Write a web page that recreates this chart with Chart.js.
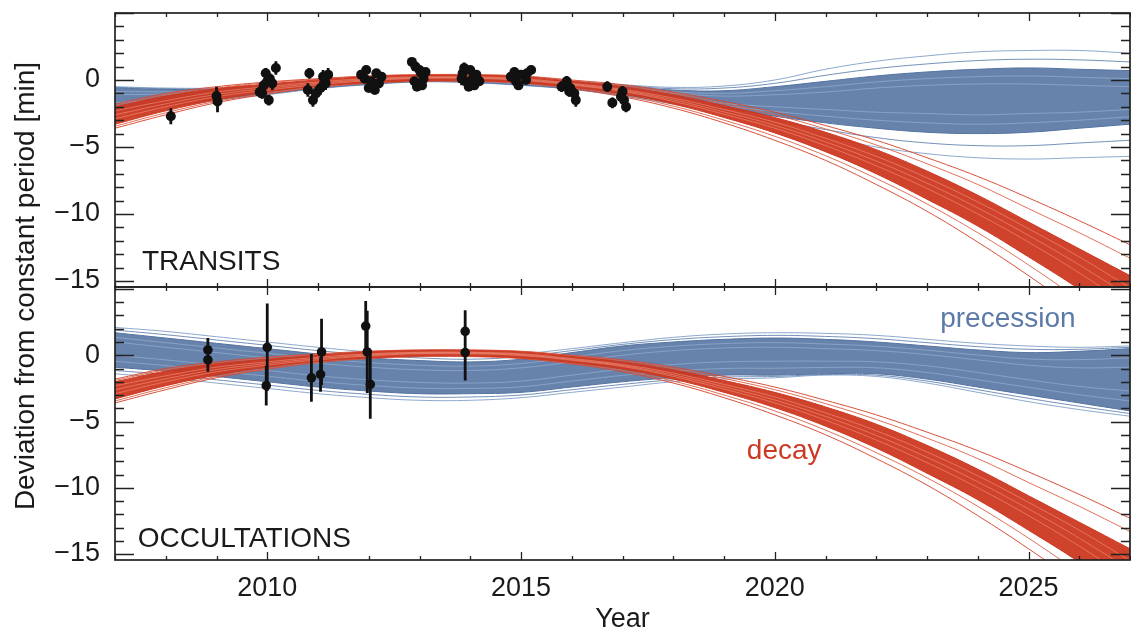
<!DOCTYPE html>
<html>
<head>
<meta charset="utf-8">
<script src="https://cdn.jsdelivr.net/npm/chart.js@4.4.1/dist/chart.umd.min.js"></script>
<style>
html,body{margin:0;padding:0;background:#fff;}
#wrap{position:relative;width:1131px;height:637px;overflow:hidden;background:#fff;}
#c1{position:absolute;left:0;top:0;}
#c2{position:absolute;left:0;top:274px;}
#ytitle{position:absolute;left:-274.7px;top:272px;width:600px;height:28px;line-height:28px;
  font-family:'Liberation Sans',Arial,sans-serif;font-size:28px;color:#1a1a1a;text-align:center;
  transform:rotate(-90deg);transform-origin:50% 50%;white-space:nowrap;}
</style>
</head>
<body>
<div id="wrap">
  <canvas id="c1" width="1131" height="300" style="width:1131px;height:300px"></canvas>
  <canvas id="c2" width="1131" height="363" style="width:1131px;height:363px"></canvas>
  <div id="ytitle">Deviation from constant period [min]</div>
</div>
<script>
// ---------------- data ----------------
const years = [2007,2008,2009,2010,2011,2012,2013,2014,2015,2016,2017,2018,2019,2020,2021,2022,2023,2024,2025,2026,2027];
const yTickValues = [-15,-10,-5,0];
const yTickLabels = ['\u221215','\u221210','\u22125','0'];
const xTickValues = [2010,2015,2020,2025];
const xTickLabels = ['2010','2015','2020','2025'];

// orbital decay model curves (red)
const decayOuterHi = [-1.8,-1.0,-0.5,-0.15,0.1,0.3,0.4,0.4,0.3,0.0,-0.35,-0.9,-1.6,-2.4,-3.4,-4.5,-5.8,-7.2,-8.8,-10.5,-12.3];
const decayMidA    = [-1.9,-1.1,-0.6,-0.2,0.05,0.28,0.38,0.38,0.28,-0.05,-0.42,-1.0,-1.75,-2.6,-3.65,-4.85,-6.25,-7.8,-9.6,-11.4,-13.3];
const decayCoreHi  = [-2.0,-1.2,-0.65,-0.3,0.0,0.25,0.35,0.35,0.25,-0.1,-0.5,-1.1,-1.9,-2.8,-3.9,-5.2,-6.8,-8.6,-10.6,-12.6,-14.6];
const decayStreakA = [-2.3,-1.55,-0.9,-0.5,-0.15,0.1,0.22,0.22,0.1,-0.25,-0.7,-1.35,-2.2,-3.15,-4.35,-5.7,-7.3,-9.1,-11.1,-13.2,-15.5];
const decayStreakC = [-2.6,-1.78,-1.08,-0.62,-0.25,0.02,0.17,0.17,0.04,-0.32,-0.78,-1.48,-2.38,-3.38,-4.62,-6.05,-7.7,-9.55,-11.6,-13.8,-16.2];
const decayStreakB = [-2.9,-2.0,-1.25,-0.75,-0.35,-0.05,0.12,0.12,-0.02,-0.38,-0.85,-1.6,-2.55,-3.6,-4.9,-6.4,-8.1,-10.0,-12.1,-14.4,-16.9];
const decayCoreLo  = [-3.3,-2.3,-1.5,-0.9,-0.45,-0.2,-0.05,-0.05,-0.2,-0.55,-1.05,-1.8,-2.8,-3.95,-5.35,-7.0,-8.9,-10.9,-13.2,-15.6,-18.2];
const decayMidB    = [-3.45,-2.45,-1.6,-1.0,-0.5,-0.22,-0.08,-0.08,-0.22,-0.6,-1.15,-1.95,-3.0,-4.2,-5.65,-7.35,-9.25,-11.4,-13.8,-16.4,-19.0];
const decayOuterLo = [-3.6,-2.6,-1.7,-1.05,-0.55,-0.25,-0.1,-0.1,-0.25,-0.65,-1.25,-2.1,-3.2,-4.5,-6.0,-7.8,-9.8,-12.1,-14.6,-17.3,-20.2];

// apsidal precession model curves (blue), transits panel
const precTOuterHi = [-0.5,-0.6,-0.6,-0.4,-0.15,0.05,0.2,0.2,0.1,-0.1,-0.35,-0.55,-0.45,0.0,0.8,1.4,1.8,2.1,2.2,2.2,2.0];
const precTMidA    = [-0.55,-0.65,-0.65,-0.45,-0.18,0.02,0.18,0.18,0.08,-0.12,-0.4,-0.65,-0.6,-0.25,0.35,0.85,1.2,1.45,1.55,1.5,1.35];
const precTCoreHi  = [-0.6,-0.7,-0.7,-0.5,-0.2,0.0,0.15,0.15,0.05,-0.15,-0.45,-0.75,-0.8,-0.5,-0.1,0.3,0.6,0.8,0.9,0.8,0.7];
const precTStreakC = [-0.85,-0.88,-0.8,-0.58,-0.28,-0.05,0.1,0.1,-0.02,-0.25,-0.58,-0.88,-1.0,-0.8,-0.5,-0.15,0.1,0.25,0.3,0.2,0.1];
const precTStreakA = [-1.1,-1.05,-0.9,-0.65,-0.35,-0.1,0.05,0.05,-0.1,-0.35,-0.7,-1.0,-1.2,-1.1,-0.9,-0.6,-0.4,-0.3,-0.3,-0.4,-0.5];
const precTStreakB = [-1.7,-1.45,-1.15,-0.85,-0.5,-0.2,-0.02,-0.05,-0.25,-0.5,-0.9,-1.35,-1.75,-2.0,-2.2,-2.4,-2.5,-2.6,-2.5,-2.4,-2.2];
const precTStreakD = [-1.95,-1.62,-1.28,-0.92,-0.55,-0.25,-0.06,-0.1,-0.3,-0.58,-1.0,-1.48,-1.92,-2.35,-2.7,-3.0,-3.2,-3.3,-3.2,-3.0,-2.75];
const precTCoreLo  = [-2.2,-1.8,-1.4,-1.0,-0.6,-0.3,-0.1,-0.15,-0.35,-0.65,-1.1,-1.6,-2.1,-2.7,-3.2,-3.6,-3.9,-4.0,-3.9,-3.6,-3.3];
const precTMidB    = [-2.3,-1.9,-1.45,-1.05,-0.62,-0.32,-0.12,-0.18,-0.38,-0.68,-1.15,-1.7,-2.3,-3.0,-3.7,-4.3,-4.7,-4.9,-4.9,-4.7,-4.5];
const precTOuterLo = [-2.4,-2.0,-1.5,-1.1,-0.65,-0.35,-0.15,-0.2,-0.4,-0.7,-1.2,-1.8,-2.5,-3.3,-4.2,-5.0,-5.5,-5.8,-5.9,-5.8,-5.7];

// apsidal precession model curves (blue), occultations panel
const precOOuterHi = [2.1,1.8,1.4,1.0,0.6,0.25,0.0,-0.1,0.1,0.5,0.95,1.35,1.6,1.7,1.65,1.5,1.2,0.9,0.7,0.6,0.7];
const precOMidA    = [1.9,1.55,1.15,0.75,0.35,0.02,-0.2,-0.3,-0.1,0.35,0.82,1.18,1.4,1.5,1.42,1.25,0.95,0.65,0.45,0.45,0.6];
const precOCoreHi  = [1.7,1.3,0.9,0.5,0.1,-0.2,-0.4,-0.5,-0.3,0.2,0.7,1.0,1.2,1.3,1.2,1.0,0.7,0.4,0.2,0.3,0.5];
const precOStreakC = [1.35,0.95,0.55,0.15,-0.25,-0.55,-0.75,-0.82,-0.62,-0.15,0.35,0.68,0.88,0.95,0.85,0.68,0.38,0.02,-0.28,-0.33,-0.2];
const precOStreakA = [1.0,0.6,0.2,-0.2,-0.6,-0.9,-1.1,-1.15,-0.95,-0.5,0.0,0.35,0.55,0.6,0.5,0.35,0.05,-0.35,-0.75,-0.95,-0.9];
const precOStreakB = [0.0,-0.35,-0.75,-1.15,-1.55,-1.85,-2.05,-2.1,-1.95,-1.5,-1.05,-0.7,-0.5,-0.45,-0.45,-0.5,-0.8,-1.3,-1.85,-2.35,-2.7];
const precOStreakD = [-0.45,-0.78,-1.18,-1.58,-1.98,-2.28,-2.48,-2.5,-2.38,-1.95,-1.52,-1.2,-1.0,-0.98,-0.92,-0.95,-1.3,-1.85,-2.42,-2.98,-3.45];
const precOCoreLo  = [-0.9,-1.2,-1.6,-2.0,-2.4,-2.7,-2.9,-2.9,-2.8,-2.4,-2.0,-1.7,-1.5,-1.5,-1.4,-1.4,-1.8,-2.4,-3.0,-3.6,-4.2];
const precOMidB    = [-1.15,-1.45,-1.85,-2.25,-2.65,-2.95,-3.15,-3.15,-3.0,-2.6,-2.2,-1.85,-1.65,-1.6,-1.45,-1.5,-1.95,-2.6,-3.25,-3.85,-4.4];
const precOOuterLo = [-1.4,-1.7,-2.1,-2.5,-2.9,-3.2,-3.4,-3.4,-3.2,-2.8,-2.4,-2.0,-1.8,-1.7,-1.5,-1.6,-2.1,-2.8,-3.5,-4.1,-4.6];

// transit timing measurements
const transitYear = [2008.1,2009.0,2009.02,2009.85,2009.9,2009.93,2009.97,2010.0,2010.05,2010.03,2010.1,2010.17,
  2010.83,2010.8,2010.9,2010.96,2011.05,2011.1,2011.15,2011.2,
  2011.85,2011.95,2012.05,2012.0,2012.15,2012.2,2012.12,2011.92,2012.25,
  2012.85,2012.9,2012.92,2012.95,2013.0,2013.03,2013.08,2013.05,2013.12,
  2013.83,2013.85,2013.88,2013.9,2013.97,2014.0,2014.05,2014.08,2014.12,2014.18,
  2014.8,2014.87,2014.9,2014.95,2015.0,2015.1,2015.12,2015.2,
  2015.8,2015.9,2015.95,2015.97,2016.05,2016.08,
  2016.7,2016.8,2016.97,2017.0,2017.03,2017.07];
const transitDev = [-2.7,-1.2,-1.6,-0.9,-1.0,-0.4,0.5,-0.1,0.1,-1.5,-0.25,0.9,
  0.5,-0.75,-1.5,-1.0,-0.6,0.25,-0.25,0.4,
  0.4,0.75,-0.1,-0.6,0.5,-0.25,-0.75,0.1,0.25,
  1.35,-0.1,1.0,-0.5,0.75,0.5,0.1,-0.4,0.6,
  0.1,0.5,0.9,-0.1,-0.5,0.75,0.1,-0.4,0.4,-0.1,
  0.25,0.6,-0.1,-0.4,0.4,0.0,0.5,0.75,
  -0.5,-0.1,-0.85,-0.6,-1.0,-1.5,
  -0.5,-1.7,-1.25,-0.85,-1.5,-2.0];
const transitErr = [0.6,0.7,0.8,0.4,0.4,0.4,0.4,0.4,0.4,0.4,0.5,0.5,
  0.4,0.5,0.5,0.5,0.5,0.5,0.5,0.5,
  0.3,0.3,0.3,0.3,0.3,0.3,0.3,0.3,0.3,
  0.3,0.3,0.3,0.3,0.3,0.3,0.3,0.3,0.3,
  0.5,0.4,0.4,0.3,0.3,0.3,0.3,0.3,0.3,0.3,
  0.3,0.3,0.3,0.3,0.3,0.3,0.3,0.3,
  0.4,0.4,0.4,0.4,0.4,0.5,
  0.4,0.4,0.4,0.4,0.4,0.4];

// occultation timing measurements
const occYear = [2008.83,2008.83,2010.0,2009.98,2010.87,2011.07,2011.05,2011.94,2011.97,2012.03,2013.9,2013.9];
const occDev  = [0.4,-0.35,0.6,-2.3,-1.7,0.25,-1.45,2.2,0.25,-2.2,1.8,0.2];
const occErr  = [0.9,0.9,3.3,1.5,1.8,2.5,1.3,1.9,3.1,2.6,1.6,2.1];

// ---------------- styling / helpers ----------------
const FONT = "'Liberation Sans', Arial, Helvetica, sans-serif";
Chart.defaults.font.family = FONT;
Chart.defaults.color = '#1a1a1a';

const RED  = {outer:'rgba(214,72,48,0.95)', core:'rgb(204,56,33)', fill:'rgba(204,56,33,0.95)', streak:'rgba(242,150,128,0.85)', mid:'rgba(222,95,70,0.9)'};
const BLUE = {outer:'rgba(128,158,198,0.9)', core:'rgb(82,114,160)', fill:'rgba(82,114,160,0.88)', streak:'rgba(156,182,214,0.85)', mid:'rgba(100,132,176,0.9)'};

function ser(vals){ return vals.map((v,i)=>({x: years[i], y: v})); }
function ln(vals, color, width, order, extra){
  return Object.assign({type:'line', data: ser(vals), borderColor: color, backgroundColor: color,
    borderWidth: width, pointRadius: 0, tension: 0.4, fill: false, order: order}, extra || {});
}
function bundleSets(b, c, base){
  const sets = [
    ln(b.outerHi, c.outer, 1, base+3),
    ln(b.outerLo, c.outer, 1, base+3),
    ln(b.midA, c.mid, 1, base+2),
    ln(b.midB, c.mid, 1, base+2),
    ln(b.coreHi, c.core, 1, base+1),
    ln(b.coreLo, c.core, 1, base+1, {fill: '-1', backgroundColor: c.fill})
  ];
  b.streaks.forEach(s => sets.push(ln(s, c.streak, 0.7, base)));
  return sets;
}
function pointsSet(xs, ys, r){
  return {type:'line', data: xs.map((t,i)=>({x:t, y:ys[i]})), showLine:false, pointRadius:r,
    pointBackgroundColor:'#111', pointBorderColor:'#111', pointBorderWidth:0, order:0};
}

const framePlugin = {
  id: 'frame',
  afterDraw(chart){
    const {ctx, chartArea: a} = chart;
    const x = chart.scales.x, y = chart.scales.y;
    ctx.save();
    ctx.strokeStyle = '#222';
    ctx.lineWidth = 1.3;
    ctx.beginPath();
    for (let t = Math.ceil(x.min); t <= Math.floor(x.max); t++){
      const px = Math.round(x.getPixelForValue(t)) + 0.5;
      const L = (t % 5 === 0) ? 8 : 4;
      ctx.moveTo(px, a.bottom); ctx.lineTo(px, a.bottom - L);
      ctx.moveTo(px, a.top); ctx.lineTo(px, a.top + L);
    }
    for (let v = Math.ceil(y.min); v <= Math.floor(y.max); v++){
      const py = Math.round(y.getPixelForValue(v)) + 0.5;
      const L = (v % 5 === 0) ? 19 : 9;
      ctx.moveTo(a.left, py); ctx.lineTo(a.left + L, py);
      ctx.moveTo(a.right, py); ctx.lineTo(a.right - L, py);
    }
    ctx.stroke();
    ctx.lineWidth = 1.7;
    ctx.strokeRect(a.left, a.top, a.right - a.left, a.bottom - a.top);
    ctx.restore();
  }
};
function makeErrPlugin(xs, ys, es, w){
  return {
    id: 'errbars',
    afterDatasetsDraw(chart){
      const {ctx, chartArea: a} = chart;
      const x = chart.scales.x, y = chart.scales.y;
      ctx.save();
      ctx.beginPath(); ctx.rect(a.left, a.top, a.right-a.left, a.bottom-a.top); ctx.clip();
      ctx.strokeStyle = '#111'; ctx.lineWidth = w; ctx.lineCap = 'butt';
      ctx.beginPath();
      for (let i = 0; i < xs.length; i++){
        const px = x.getPixelForValue(xs[i]);
        ctx.moveTo(px, y.getPixelForValue(ys[i] + es[i]));
        ctx.lineTo(px, y.getPixelForValue(ys[i] - es[i]));
      }
      ctx.stroke();
      ctx.restore();
    }
  };
}
function makeNotesPlugin(notes){
  return {
    id: 'notes',
    afterDatasetsDraw(chart){
      const {ctx} = chart;
      const x = chart.scales.x, y = chart.scales.y;
      ctx.save();
      ctx.font = '28px ' + FONT;
      ctx.textAlign = 'left'; ctx.textBaseline = 'alphabetic';
      notes.forEach(n => {
        ctx.fillStyle = n.color;
        ctx.fillText(n.text, x.getPixelForValue(n.x), y.getPixelForValue(n.y));
      });
      ctx.restore();
    }
  };
}

function yScale(min, max){
  return {
    type: 'linear', min: min, max: max,
    afterFit(s){ s.width = 115; s.paddingTop = 0; s.paddingBottom = 0; },
    afterBuildTicks(s){ s.ticks = yTickValues.map(v => ({value: v})); },
    grid: {display: false, drawTicks: false},
    border: {display: false},
    ticks: {padding: 15, font: {size: 27}, color: '#1a1a1a',
      callback: (v) => { const i = yTickValues.indexOf(v); return i >= 0 ? yTickLabels[i] : ''; }}
  };
}
const baseOpts = {responsive: false, animation: false, events: [],
  plugins: {legend: {display: false}, tooltip: {enabled: false}}};

const decayBundle = {outerHi: decayOuterHi, outerLo: decayOuterLo, midA: decayMidA, midB: decayMidB,
  coreHi: decayCoreHi, coreLo: decayCoreLo, streaks: [decayStreakA, decayStreakC, decayStreakB]};
const precTBundle = {outerHi: precTOuterHi, outerLo: precTOuterLo, midA: precTMidA, midB: precTMidB,
  coreHi: precTCoreHi, coreLo: precTCoreLo, streaks: [precTStreakC, precTStreakA, precTStreakB, precTStreakD]};
const precOBundle = {outerHi: precOOuterHi, outerLo: precOOuterLo, midA: precOMidA, midB: precOMidB,
  coreHi: precOCoreHi, coreLo: precOCoreLo, streaks: [precOStreakC, precOStreakA, precOStreakB, precOStreakD]};

const notesTop = [{text: 'TRANSITS', x: 2007.53, y: -14.18, color: '#1a1a1a'}];
const notesBottom = [
  {text: 'OCCULTATIONS', x: 2007.45, y: -14.45, color: '#1a1a1a'},
  {text: 'precession', x: 2023.26, y: 2.15, color: 'rgb(92,122,168)'},
  {text: 'decay', x: 2019.45, y: -7.85, color: 'rgb(205,58,35)'}
];

// ---------------- top panel: transits ----------------
new Chart(document.getElementById('c1'), {
  type: 'line',
  data: {datasets: [
    ...bundleSets(precTBundle, BLUE, 10),
    ...bundleSets(decayBundle, RED, 5),
    pointsSet(transitYear, transitDev, 5)
  ]},
  options: Object.assign({}, baseOpts, {
    layout: {padding: {top: 13, bottom: 13, left: 0, right: 1}, autoPadding: false},
    scales: {
      x: {type: 'linear', min: 2007, max: 2027, display: false},
      y: yScale(-15.45, 5.0)
    }
  }),
  plugins: [makeErrPlugin(transitYear, transitDev, transitErr, 2.8), makeNotesPlugin(notesTop), framePlugin]
});

// ---------------- bottom panel: occultations ----------------
new Chart(document.getElementById('c2'), {
  type: 'line',
  data: {datasets: [
    ...bundleSets(precOBundle, BLUE, 10),
    ...bundleSets(decayBundle, RED, 5),
    pointsSet(occYear, occDev, 4.8)
  ]},
  options: Object.assign({}, baseOpts, {
    layout: {padding: {top: 13, bottom: 0, left: 0, right: 1}, autoPadding: false},
    scales: {
      x: {type: 'linear', min: 2007, max: 2027,
        afterFit(s){ s.height = 77; s.paddingLeft = 0; s.paddingRight = 0; },
        afterBuildTicks(s){ s.ticks = xTickValues.map(v => ({value: v})); },
        grid: {display: false, drawTicks: false},
        border: {display: false},
        ticks: {padding: 12, font: {size: 27}, color: '#1a1a1a', autoSkip: false, maxRotation: 0,
          callback: (v) => { const i = xTickValues.indexOf(v); return i >= 0 ? xTickLabels[i] : ''; }},
        title: {display: true, text: 'Year', font: {size: 27}, color: '#1a1a1a', padding: {top: 0, bottom: 1}}
      },
      y: yScale(-15.45, 5.15)
    }
  }),
  plugins: [makeErrPlugin(occYear, occDev, occErr, 2.8), makeNotesPlugin(notesBottom), framePlugin]
});
</script>
</body>
</html>
